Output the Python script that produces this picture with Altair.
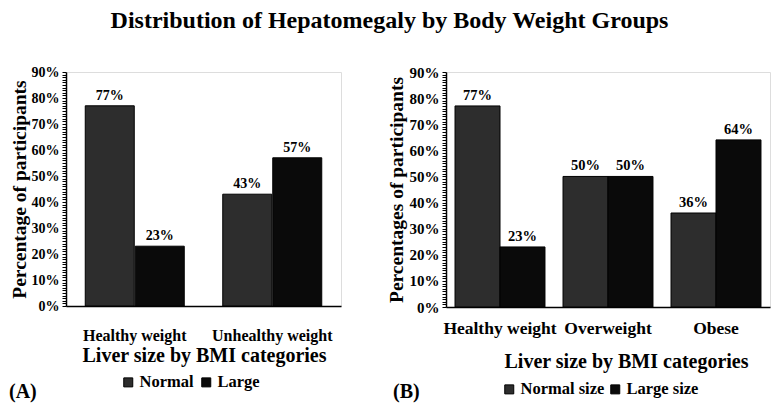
import altair as alt
import pandas as pd

FONT = "Liberation Serif"

# Panel A data
cats_a = ["Healthy weight", "Unhealthy weight"]
series_a = ["Normal", "Large"]
normal_a = [0.77, 0.43]
large_a = [0.23, 0.57]

# Panel B data
cats_b = ["Healthy weight", "Overweight", "Obese"]
series_b = ["Normal size", "Large size"]
normal_b = [0.77, 0.50, 0.36]
large_b = [0.23, 0.50, 0.64]

fills = ["#2d2d2d", "#0a0a0a"]
y_values = [round(i / 100, 2) for i in range(0, 91)]


def panel(cats, series, normal, large, ytitle, letter, width, height,
          pad_inner, pad_outer, off_pad, tick_fs, ytitle_x, xlabel_fs, xlabel_pad,
          xtitle_pad, xtitle_x, bar_fs, leg_x, leg_y, col_pad, letter_x, letter_y):
    df = pd.DataFrame({
        "cat": cats * 2,
        "series": [series[0]] * len(cats) + [series[1]] * len(cats),
        "value": normal + large,
    })
    x = alt.X("cat:N", sort=cats,
              scale=alt.Scale(type="band", paddingInner=pad_inner, paddingOuter=pad_outer),
              axis=alt.Axis(title="Liver size by BMI categories", labelAngle=0,
                            ticks=False, tickSize=0, labelFont=FONT, labelFontWeight="bold",
                            labelFontSize=xlabel_fs, labelColor="black", labelPadding=xlabel_pad,
                            titleFont=FONT, titleFontWeight="bold", titleFontSize=20,
                            titleColor="black", titlePadding=xtitle_pad, titleX=xtitle_x,
                            domainColor="black", domainWidth=1.5, grid=False))
    xo = alt.XOffset("series:N", sort=series,
                     scale=alt.Scale(type="band", domain=series, paddingInner=off_pad,
                                     paddingOuter=0))
    yaxis_kw = dict(title=ytitle, values=y_values, format=".0%",
                    labelExpr="round(datum.value*100) % 10 == 0 ? datum.label : ''",
                    labelOverlap=False, labelFont=FONT, labelFontWeight="bold",
                    labelFontSize=tick_fs, labelColor="black", labelPadding=3,
                    tickSize=4, tickColor="black", tickWidth=1,
                    domainColor="black", domainWidth=1.5, grid=False,
                    titleFont=FONT, titleFontWeight="bold", titleFontSize=19.5,
                    titleColor="black", titlePadding=2)
    if ytitle_x is not None:
        yaxis_kw["titleX"] = ytitle_x
    y = alt.Y("value:Q", scale=alt.Scale(domain=[0, 0.9], nice=False),
              axis=alt.Axis(**yaxis_kw))
    color = alt.Color("series:N", sort=series,
                      scale=alt.Scale(domain=series, range=fills),
                      legend=alt.Legend(title=None, orient="none", direction="horizontal",
                                        legendX=leg_x, legendY=leg_y, symbolType="square",
                                        symbolSize=81, symbolStrokeColor="black",
                                        symbolStrokeWidth=1, labelFont=FONT,
                                        labelFontWeight="bold", labelFontSize=16.5,
                                        labelColor="black", labelOffset=3,
                                        columnPadding=col_pad))
    bars = alt.Chart(df).mark_bar(stroke="black", strokeWidth=1).encode(
        x=x, xOffset=xo, y=y, color=color)
    labels = alt.Chart(df).mark_text(font=FONT, fontWeight="bold", fontSize=bar_fs,
                                     color="black", baseline="alphabetic", dy=-6).encode(
        x=x, xOffset=xo, y=y, text=alt.Text("value:Q", format=".0%"))
    tag = alt.Chart(pd.DataFrame({"t": [letter]})).mark_text(
        font=FONT, fontWeight="bold", fontSize=20, color="black",
        align="left", baseline="alphabetic").encode(
        x=alt.value(letter_x), y=alt.value(letter_y), text="t:N")
    return alt.layer(bars, labels, tag).properties(width=width, height=height)


left = panel(cats_a, series_a, normal_a, large_a, "Percentage of participants", "(A)",
             275, 234, 0.28, 0.14, 0.02, 14, None, 16, 21, 2, 138, 14, 54, 302, 4, -57, 326)
right = panel(cats_b, series_b, normal_b, large_b, "Percentages of participants", "(B)",
              324, 235, 0.167, 0.0835, 0.0, 15, -40, 17.5, 12.5, 14, 180, 14.5, 55, 309, 2, -53, 326)

chart = alt.hconcat(left, right, spacing=43).resolve_scale(
    color="independent", x="independent", xOffset="independent", y="independent"
).properties(
    title=alt.TitleParams("Distribution of Hepatomegaly by Body Weight Groups", font=FONT,
                          fontSize=24, fontWeight="bold", color="black", anchor="middle",
                          offset=32),
    padding={"left": 0, "top": 0, "right": 0, "bottom": 0},
).configure_view(stroke=None).configure(background="white")

chart.save("out.html", embed_options={"renderer": "svg", "actions": False})
